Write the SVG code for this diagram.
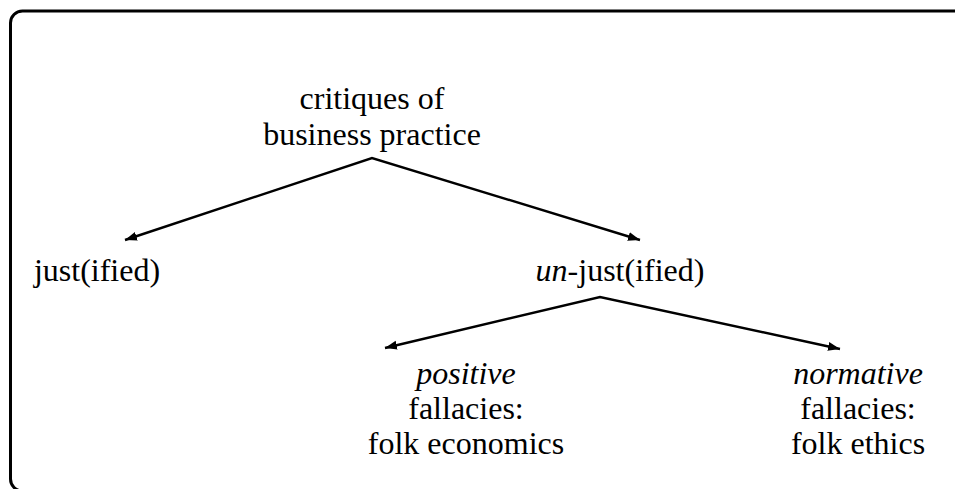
<svg xmlns="http://www.w3.org/2000/svg" width="955" height="489" viewBox="0 0 955 489">
<defs>
<style>
text{font-family:"Liberation Serif","Times New Roman",serif;font-size:32px;fill:#000;text-anchor:middle}
.i{font-style:italic}
.c{stroke:#000;stroke-width:2.4;fill:none}
</style>
<marker id="ah" viewBox="0 0 12 10" refX="12" refY="5" markerWidth="12" markerHeight="10" markerUnits="userSpaceOnUse" orient="auto-start-reverse">
<path d="M0,0.5 L12,5 L0,9.5 z" fill="#000"/>
</marker>
</defs>
<rect x="10.5" y="11" width="960" height="480" rx="12" fill="#fff" stroke="#000" stroke-width="3"/>
<g id="connectors">
<path class="c" d="M125,240 L372,158 L640,240" marker-start="url(#ah)" marker-end="url(#ah)"/>
<path class="c" d="M385,348 L600,297 L840,349" marker-start="url(#ah)" marker-end="url(#ah)"/>
</g>
<g id="root"><text x="372" y="109">critiques of</text><text x="372" y="145">business practice</text></g>
<g id="just"><text x="97" y="281">just(ified)</text></g>
<g id="unjust"><text x="620" y="281"><tspan class="i">un</tspan>-just(ified)</text></g>
<g id="positive"><text x="466" y="384" class="i">positive</text><text x="466" y="419">fallacies:</text><text x="466" y="454">folk economics</text></g>
<g id="normative"><text x="858" y="384" class="i">normative</text><text x="858" y="419">fallacies:</text><text x="858" y="454">folk ethics</text></g>
</svg>
